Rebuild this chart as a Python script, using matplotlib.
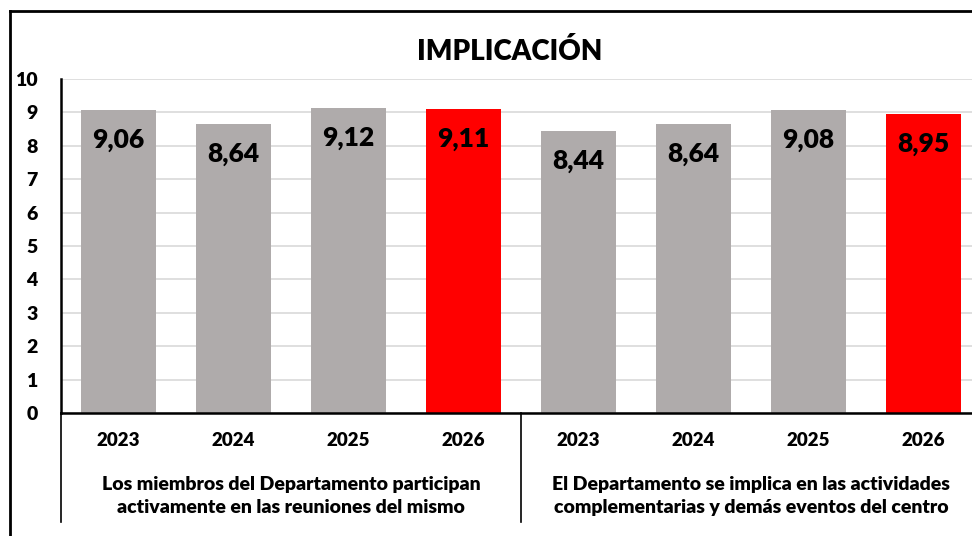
import numpy as np
import matplotlib.pyplot as plt
from matplotlib.lines import Line2D
import matplotlib.transforms as mtransforms

plt.rcParams['font.family'] = ['Lato', 'DejaVu Sans']

years = ['2023', '2024', '2025', '2026']
groups = ['Los miembros del Departamento participan\nactivamente en las reuniones del mismo',
          'El Departamento se implica en las actividades\ncomplementarias y demás eventos del centro']
values_g1 = [9.06, 8.64, 9.12, 9.11]
values_g2 = [8.44, 8.64, 9.08, 8.95]

values = values_g1 + values_g2
labels = years + years
colors = ['#AFABAB', '#AFABAB', '#AFABAB', '#FF0000'] * 2

W = 'heavy'

fig = plt.figure(figsize=(9.72, 5.36), dpi=100)
ax = fig.add_axes([61 / 972, 1 - 413 / 536, 920 / 972, 334 / 536])

x = np.arange(len(values))
ax.bar(x, values, width=0.66, color=colors, zorder=2)

for xi, v in zip(x, values):
    ax.text(xi, v - 0.9, f'{v:.2f}'.replace('.', ','), ha='center', va='center',
            fontsize=19, fontweight=W, color='black', zorder=3)

ax.set_xlim(-0.5, len(values) - 0.5)
ax.set_ylim(0, 10)
ax.set_yticks(range(0, 11))
ax.set_yticklabels([str(i) for i in range(0, 11)], fontsize=14, fontweight=W)
ax.tick_params(axis='y', length=0, pad=17)
ax.set_xticks([])
ax.grid(axis='y', color='#D9D9D9', linewidth=1.2, zorder=0)
for s in ['top', 'right']:
    ax.spines[s].set_visible(False)
ax.spines['left'].set_linewidth(1.8)
ax.spines['bottom'].set_linewidth(1.8)

trans = mtransforms.blended_transform_factory(ax.transData, ax.transAxes)
for xi, lab in zip(x, labels):
    ax.text(xi, -0.081, lab, transform=trans, ha='center', va='center',
            fontsize=13.5, fontweight=W)
for gi, g in enumerate(groups):
    ax.text(gi * 4 + 1.5, -0.249, g, transform=trans, ha='center', va='center',
            fontsize=14, fontweight=W, linespacing=1.4)
for sx in [-0.5, 3.5, 7.5]:
    ax.plot([sx, sx], [0, -0.326], transform=trans, color='black', linewidth=1.2,
            clip_on=False)

fig.text(510 / 972, 1 - 52 / 536, 'IMPLICACIÓN', ha='center', va='center',
         fontsize=20, fontweight=W)

# chart border (top and left visible)
fig.add_artist(Line2D([10 / 972, 1.0], [1 - 11 / 536] * 2, color='black', linewidth=2))
fig.add_artist(Line2D([10 / 972] * 2, [0.0, 1 - 11 / 536], color='black', linewidth=2))

fig.savefig('out.png', dpi=100)
